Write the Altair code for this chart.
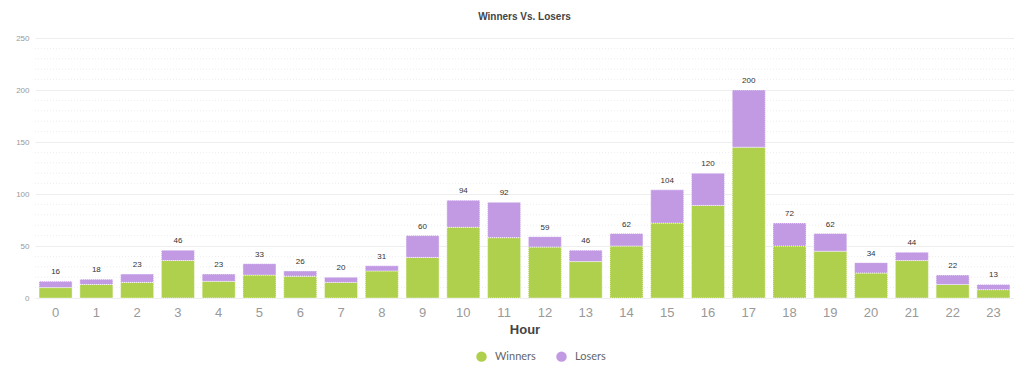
import altair as alt
import pandas as pd

hours = list(range(24))
totals = [16, 18, 23, 46, 23, 33, 26, 20, 31, 60, 94, 92, 59, 46, 62, 104, 120, 200, 72, 62, 34, 44, 22, 13]
winners = [10, 13, 15, 36, 16, 22, 21, 15, 26, 39, 68, 58, 49, 35, 50, 72, 89, 145, 50, 45, 24, 36, 13, 8]
losers = [t - w for t, w in zip(totals, winners)]
series = ["Winners", "Losers"]
colors = ["#afd04c", "#c29ae4"]
minor_ticks = [v for v in range(10, 250, 10) if v % 50 != 0]

rows = []
for h, w, l in zip(hours, winners, losers):
    rows.append({"Hour": h, "Series": "Winners", "Value": w, "idx": 0})
    rows.append({"Hour": h, "Series": "Losers", "Value": l, "idx": 1})
df = pd.DataFrame(rows)
tot_df = pd.DataFrame({"Hour": hours, "Total": totals})
grid_df = pd.DataFrame({"v": minor_ticks})

FONT = "Liberation Sans"
yscale = alt.Scale(domain=[0, 250], nice=False)

x_enc = alt.X("Hour:O", title="Hour", scale=alt.Scale(paddingInner=0.19, paddingOuter=0.1),
              axis=alt.Axis(labelAngle=0, labelFontSize=13, labelColor="#999999", labelFont=FONT,
                            domain=False, ticks=False, labelPadding=8,
                            titleFont=FONT, titleFontSize=13, titleFontWeight="bold",
                            titleColor="#444444", titlePadding=4))

grid = alt.Chart(grid_df).mark_rule(color="#eeeeee", strokeDash=[1, 2], strokeWidth=1).encode(
    y=alt.Y("v:Q", scale=yscale)
)

bars = alt.Chart(df).mark_bar(stroke="white", strokeDash=[1, 1], strokeWidth=0.8).encode(
    x=x_enc,
    y=alt.Y("Value:Q", stack="zero", title=None, scale=yscale,
            axis=alt.Axis(values=[0, 50, 100, 150, 200, 250], labelFontSize=8, labelColor="#999999",
                          labelFont=FONT, domain=False, ticks=False, gridColor="#eeeeee",
                          labelPadding=6)),
    color=alt.Color("Series:N", scale=alt.Scale(domain=series, range=colors),
                    legend=alt.Legend(title=None, orient="none", legendX=441, legendY=313,
                                      direction="horizontal",
                                      symbolType="circle", symbolSize=110, symbolStrokeWidth=0,
                                      labelFont="Lato", labelFontSize=11, labelColor="#666666",
                                      labelOffset=8, columnPadding=20)),
    order=alt.Order("idx:Q"),
)

labels = alt.Chart(tot_df).mark_text(dy=-9, fontSize=8, color="#333333", font=FONT).encode(
    x=alt.X("Hour:O"),
    y=alt.Y("Total:Q", scale=yscale),
    text=alt.Text("Total:Q"),
)

chart = alt.layer(grid, bars, labels).properties(
    width=979, height=260,
    title=alt.TitleParams("Winners Vs. Losers", font=FONT, fontSize=10, fontWeight="bold",
                          color="#444444", anchor="middle", offset=12),
    padding={"left": 27, "top": 30, "right": 0, "bottom": 70},
    autosize=alt.AutoSizeParams(type="none"),
).configure_view(stroke=None)

chart.save("out.html", embed_options={"renderer": "svg", "actions": False})
